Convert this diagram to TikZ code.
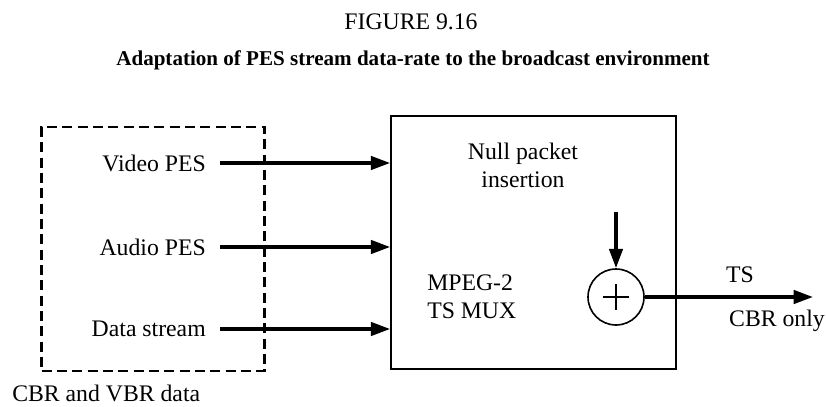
\documentclass[tikz,border=0pt]{standalone}
\usepackage{fontspec}
\setmainfont{Liberation Serif}
\usetikzlibrary{arrows.meta}

\tikzset{
  txt/.style={inner sep=0pt, font=\fontsize{17.8}{20}\selectfont},
  flow/.style={line width=2.6pt, -{Triangle[length=14.5pt,width=10pt]}},
  muxbox/.style={draw, line width=1.2pt, minimum width=213.75pt, minimum height=189.75pt, inner sep=0pt},
  srcbox/.style={draw, line width=2.2pt, dash pattern=on 7.5pt off 4pt, minimum width=167.25pt, minimum height=183pt, inner sep=0pt},
  sumnode/.style={draw, circle, line width=1.2pt, minimum size=42pt, inner sep=0pt}
}

\begin{document}
\begin{tikzpicture}[x=0.75pt, y=-0.75pt]
  \useasboundingbox (0,0) rectangle (826,407);

  % caption
  \node[txt] (fig) at (411,22) {FIGURE 9.16};
  \node[txt, font=\fontsize{15.8}{17}\selectfont\bfseries] (title) at (413,60)
    {Adaptation of PES stream data-rate to the broadcast environment};

  % boxes
  \node[srcbox] (src) at (153,249) {};
  \node[txt, anchor=west] (srclabel) at (12,393) {CBR and VBR data};
  \node[muxbox] (mux) at (533.5,242.5) {};

  % inputs
  \foreach \name/\label/\y in {vid/Video PES/163, aud/Audio PES/247, dat/Data stream/329}{
    \node[txt, anchor=east] (\name) at (206,\y) {\label};
    \draw[flow] (\name.east) ++(14,0) -- (\name.east -| mux.west);
  }

  % texts in the multiplexer
  \node[txt, align=center] (null) at (523,165) {Null packet\\[1pt]insertion};
  \node[txt, align=left, anchor=west] (mpeg) at (427,297) {MPEG-2\\[1pt]TS MUX};

  % adder
  \node[sumnode] (sum) at (616,297) {};
  \draw[line width=1.2pt] (sum.center) +(-13,0) -- +(13,0)
                          (sum.center) +(0,-13) -- +(0,13);
  \coordinate (nullin) at (616,212);
  \draw[flow] (nullin) -- (sum.north);

  % output
  \coordinate (out) at (813,297);
  \draw[flow] (sum.east) -- (out);
  \node[txt] (ts) at (740,275) {TS};
  \node[txt] (cbr) at (777,321) {CBR only};
\end{tikzpicture}
\end{document}
